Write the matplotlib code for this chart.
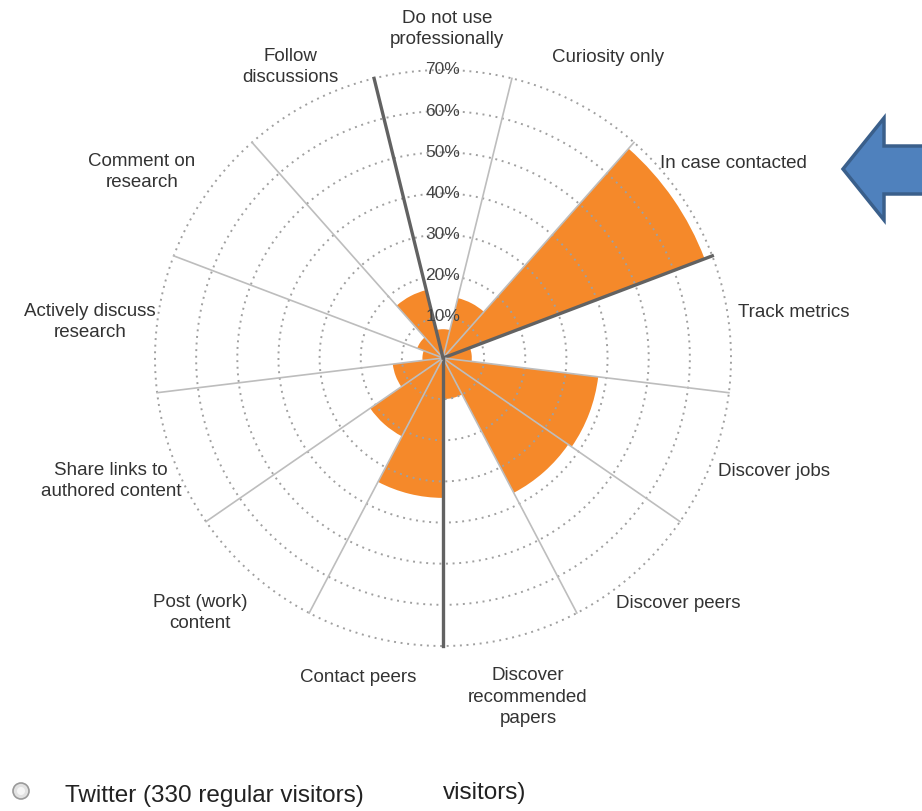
import numpy as np
import matplotlib
matplotlib.use("Agg")
import matplotlib.pyplot as plt
from matplotlib.patches import Polygon, Circle
from matplotlib.transforms import IdentityTransform

plt.rcParams['font.family'] = ['Liberation Sans', 'DejaVu Sans']

# data (percent of respondents)
categories = ["Do not use\nprofessionally", "Curiosity only", "In case contacted",
              "Track metrics", "Discover jobs", "Discover peers",
              "Discover\nrecommended\npapers", "Contact peers", "Post (work)\ncontent",
              "Share links to\nauthored content", "Actively discuss\nresearch",
              "Comment on\nresearch", "Follow\ndiscussions"]
share = [7, 15, 68, 7, 38, 37, 10, 34, 21.5, 12.3, 5, 6.7, 17]
radial_ticks = [10, 20, 30, 40, 50, 60, 70]

W, H = 922, 811
orange = "#F5892A"

# label placement in pixels (x, y from top, align)
label_pos = [(447, 29, "center"), (608, 57, "center"), (660, 163, "left"),
             (738, 312, "left"), (718, 472, "left"), (616, 603, "left"),
             (528, 697, "center"), (358, 677, "center"), (200, 613, "center"),
             (111, 481, "center"), (90, 322, "center"), (142, 172, "center"),
             (290, 67, "center")]
dark_lines = [2, 6, 12]

fig = plt.figure(figsize=(W / 100, H / 100), dpi=100)
cx, cy, R = 443, 358, 288
ax = fig.add_axes([(cx - R) / W, (H - cy - R) / H, 2 * R / W, 2 * R / H], projection="polar")
ax.set_theta_zero_location("N")
ax.set_theta_direction(-1)
ax.set_ylim(0, 70)
ax.grid(False)
ax.set_xticks([])
ax.set_yticks([])
ax.spines["polar"].set_visible(False)

n = len(categories)
step = 2 * np.pi / n
theta = np.arange(n) * step
ax.bar(theta, share, width=step, color=orange, linewidth=0, zorder=1)

# dotted rings
tt = np.linspace(0, 2 * np.pi, 500)
for v in radial_ticks:
    ax.plot(tt, np.full_like(tt, v), color="#A0A0A0", lw=1.4, ls=(0, (1, 2.4)),
            zorder=2, clip_on=False)

# sector boundary lines
for i in range(n):
    b = (i + 0.5) * step
    if i in dark_lines:
        ax.plot([b, b], [0, 70], color="#626262", lw=2.4, zorder=3, clip_on=False)
    else:
        ax.plot([b, b], [0, 70], color="#BDBDBD", lw=1.2, zorder=3, clip_on=False)

for v in radial_ticks:
    ax.text(0, v, f"{v}%", ha="center", va="center", fontsize=12.5, color="#444444", zorder=4)

for lab, (x, y, ha) in zip(categories, label_pos):
    fig.text(x / W, 1 - y / H, lab, ha=ha, va="center", multialignment="center",
             fontsize=13.5, color="#333333", linespacing=1.38)

# blue arrow pointing at "In case contacted"
arrow = [(843, 169), (884, 118), (884, 146), (930, 146), (930, 194), (884, 194), (884, 220)]
fig.add_artist(Polygon([(x, H - y) for x, y in arrow], closed=True, transform=IdentityTransform(),
                       facecolor="#4F81BD", edgecolor="#3A5F8B", lw=2.5))

# radio button + legend text at the bottom
fig.add_artist(Circle((21, H - 791), 8, transform=IdentityTransform(),
                      facecolor="#E2E2E2", edgecolor="#9A9A9A", lw=1.2))
fig.add_artist(Circle((21, H - 791), 4, transform=IdentityTransform(),
                      facecolor="#F6F6F6", edgecolor="none"))
fig.text(65 / W, 1 - 796 / H, "Twitter (330 regular visitors)", ha="left", va="center",
         fontsize=17.5, color="#222222")
fig.text(443 / W, 1 - 793 / H, "visitors)", ha="left", va="center",
         fontsize=17.5, color="#222222")

fig.savefig("out.png", dpi=100)
